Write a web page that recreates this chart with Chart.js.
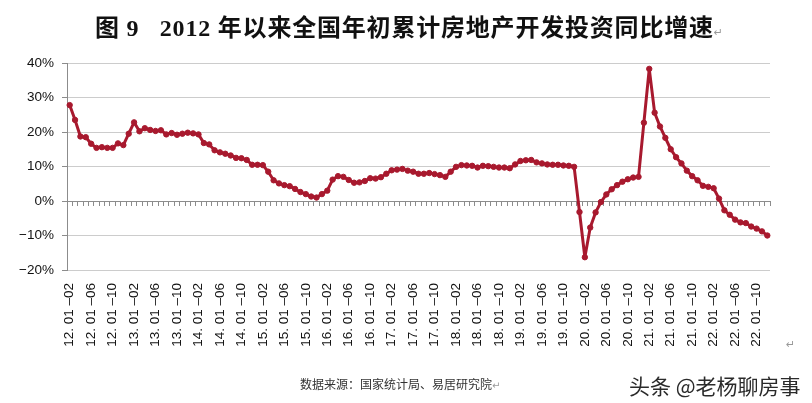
<!DOCTYPE html>
<html><head><meta charset="utf-8">
<script src="https://cdn.jsdelivr.net/npm/chart.js@4"></script>
<style>
html,body{margin:0;padding:0;background:#fff;width:812px;height:403px;overflow:hidden;}
#wrap{position:absolute;left:0;top:0;width:812px;height:403px;}
.t{position:absolute;white-space:nowrap;line-height:1;}
</style></head><body>
<div id="wrap"><canvas id="c" width="812" height="403"></canvas></div>
<div class="t" style="left:95px;top:8px;font:bold 24px 'Liberation Serif','Noto Sans CJK SC';letter-spacing:0.8px;color:#111;">图 9&nbsp;&nbsp;&nbsp;2012 年以来全国年初累计房地产开发投资同比增速<span style="font:11px 'DejaVu Sans';color:#999;letter-spacing:0;">↵</span></div>
<div class="t" style="left:786px;top:338px;font:11px 'DejaVu Sans';color:#999;">↵</div>
<div class="t" style="left:300px;top:375px;font:12px 'Noto Sans CJK SC';color:#333;">数据来源：国家统计局、易居研究院<span style="font:10px 'DejaVu Sans';color:#999;">↵</span></div>
<div class="t" style="left:629px;top:370px;font:21px 'Noto Sans CJK SC';color:#2a2a2a;text-shadow:0 0 2px #fff;">头条 @老杨聊房事</div>
<script>
// years shown on the category axis and month codes
const years = ['12','13','14','15','16','17','18','19','20','21','22'];
const monthCodes = ['01','02','03','04','05','06','07','08','09','10','11','12'];
// cumulative YoY growth of real-estate development investment (%), as plotted
// 2012 starts at Jan-Feb; later years start with the January point drawn on the chart
const v2012 = [27.8,23.5,18.7,18.5,16.6,15.4,15.6,15.4,15.4,16.7,16.2];
const v2013 = [19.5,22.8,20.2,21.1,20.6,20.3,20.5,19.3,19.7,19.2,19.5,19.8];
const v2014 = [19.6,19.3,16.8,16.4,14.7,14.1,13.7,13.2,12.5,12.4,11.9,10.5];
const v2015 = [10.5,10.4,8.5,6.0,5.1,4.6,4.3,3.5,2.6,2.0,1.3,1.0];
const v2016 = [2.0,3.0,6.2,7.2,7.0,6.1,5.3,5.4,5.8,6.6,6.5,6.9];
const v2017 = [7.9,8.9,9.1,9.3,8.8,8.5,7.9,7.9,8.1,7.8,7.5,7.0];
const v2018 = [8.5,9.9,10.4,10.3,10.2,9.7,10.2,10.1,9.9,9.7,9.7,9.5];
const v2019 = [10.6,11.6,11.8,11.9,11.2,10.9,10.6,10.5,10.5,10.3,10.2,9.9];
const v2020 = [-3.2,-16.3,-7.7,-3.3,-0.3,1.9,3.4,4.6,5.6,6.3,6.8,7.0];
const v2021 = [22.7,38.3,25.6,21.6,18.3,15.0,12.7,10.9,8.8,7.2,6.0,4.4];
const v2022 = [4.1,3.7,0.7,-2.7,-4.0,-5.4,-6.2,-6.4,-7.4,-8.0,-8.8,-10.0];
const yTicks = [-20,-10,0,10,20,30,40];

const perYear = [v2012,v2013,v2014,v2015,v2016,v2017,v2018,v2019,v2020,v2021,v2022];
const labels = [];
const values = [];
years.forEach((yy, k) => {
  const arr = perYear[k];
  const startMonth = 12 - arr.length;
  arr.forEach((v, j) => {
    const mm = monthCodes[startMonth + j];
    labels.push(mm === '01' ? yy + '. 01' : yy + '. 01 \u2013' + mm);
    values.push(v);
  });
});

const red = '#A8192E';
new Chart(document.getElementById('c'), {
  type: 'line',
  data: { labels: labels, datasets: [{
    data: values, borderColor: red, backgroundColor: red,
    pointBackgroundColor: red, pointBorderColor: red,
    borderWidth: 3, pointRadius: 2.7, pointBorderWidth: 1,
    borderJoinStyle: 'round', borderCapStyle: 'round',
    tension: 0, xAxisID: 'x', yAxisID: 'y', clip: false
  }]},
  options: {
    responsive: false, animation: false,
    layout: { padding: { left: 0, right: 42, top: 63, bottom: 0 } },
    plugins: { legend: { display: false }, tooltip: { enabled: false }, title: { display: false } },
    scales: {
      x: {
        type: 'category', position: 'bottom', offset: true,
        grid: { display: false, drawTicks: false },
        border: { display: false },
        ticks: {
          autoSkip: false, maxRotation: 90, minRotation: 90, padding: 13,
          color: '#111', font: { family: "'Liberation Sans', Arial", size: 13.5 },
          callback: (v, i) => (i % 4 === 0 ? labels[i] : '')
        },
        afterFit: s => { s.height = 133; }
      },
      x0: {
        type: 'category', position: { y: 0 }, offset: true,
        grid: { offset: true, drawOnChartArea: false, drawTicks: true, tickLength: 4, color: '#8c8c8c' },
        border: { display: true, color: '#8c8c8c', width: 1 },
        ticks: { display: false, autoSkip: false }
      },
      y: {
        min: -20, max: 40,
        afterBuildTicks: s => { s.ticks = yTicks.map(v => ({ value: v })); },
        ticks: {
          padding: 8, color: '#111', font: { family: "'Liberation Sans', Arial", size: 13.5 },
          callback: v => (v < 0 ? '\u2212' + (-v) : v) + '%'
        },
        grid: { color: '#cccccc', tickColor: '#8c8c8c', tickLength: 5, drawTicks: true },
        border: { display: true, color: '#8c8c8c' },
        afterFit: s => { s.width = 67; }
      }
    }
  }
});
</script>
</body></html>
